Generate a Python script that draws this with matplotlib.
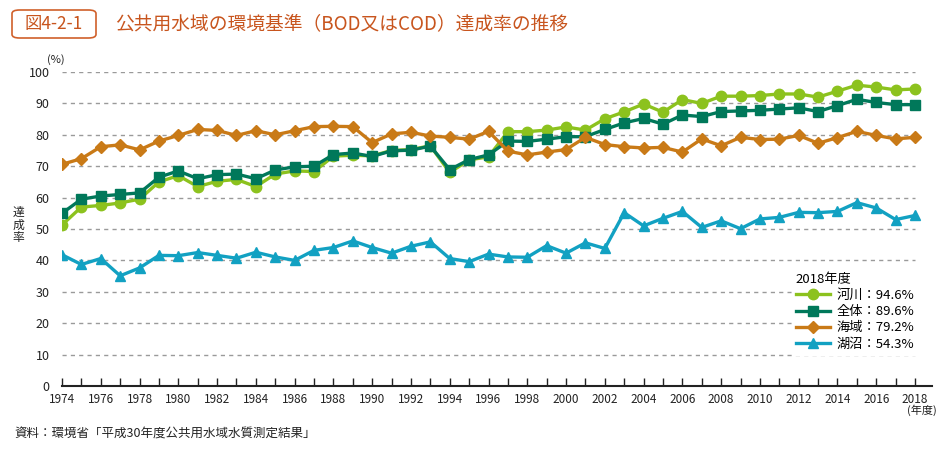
import matplotlib
matplotlib.use("Agg")
import matplotlib.pyplot as plt
from matplotlib.patches import FancyBboxPatch
import numpy as np

plt.rcParams['font.family'] = ['Noto Sans CJK JP', 'DejaVu Sans']

years = list(range(1974, 2019))
river = [51.3, 57.0, 57.5, 58.3, 59.5, 65.0, 67.0, 63.5, 65.2, 65.8, 63.5, 67.5, 68.5, 68.3,
         73.2, 73.5, 73.3, 75.0, 75.3, 76.5, 68.0, 72.0, 73.0, 81.0, 81.0, 81.5, 82.5, 81.5,
         85.1, 87.3, 89.8, 87.2, 91.2, 90.0, 92.3, 92.3, 92.5, 93.0, 93.0, 92.0, 93.9, 95.8,
         95.2, 94.3, 94.6]
overall = [55.0, 59.5, 60.5, 61.0, 61.5, 66.5, 68.5, 66.0, 67.3, 67.5, 66.0, 68.8, 69.8, 70.0,
           73.7, 74.2, 73.1, 74.9, 75.1, 76.4, 68.9, 72.1, 73.6, 78.0, 77.9, 78.6, 79.4, 79.4,
           81.7, 83.8, 85.2, 83.4, 86.3, 85.8, 87.4, 87.6, 87.8, 88.2, 88.6, 87.4, 89.3, 91.3,
           90.3, 89.6, 89.6]
sea = [70.6, 72.4, 76.2, 76.8, 75.2, 78.0, 79.8, 81.7, 81.4, 79.8, 81.3, 80.0, 81.3, 82.6,
       82.7, 82.6, 77.5, 80.3, 80.8, 79.6, 79.2, 78.6, 81.1, 74.8, 73.6, 74.5, 75.3, 79.2,
       76.9, 76.2, 75.8, 76.0, 74.5, 78.7, 76.5, 79.2, 78.5, 78.6, 79.8, 77.3, 79.1, 81.1,
       79.8, 78.7, 79.2]
lake = [41.8, 38.7, 40.6, 35.1, 37.6, 41.6, 41.5, 42.5, 41.6, 40.7, 42.6, 41.1, 40.0, 43.2,
        44.1, 46.2, 44.1, 42.3, 44.5, 45.9, 40.6, 39.6, 42.0, 41.1, 41.0, 44.7, 42.3, 45.6,
        43.8, 55.2, 51.0, 53.4, 55.6, 50.5, 52.6, 50.1, 53.2, 53.7, 55.3, 55.2, 55.6, 58.4,
        56.7, 53.0, 54.3]
series_labels = ['河川：94.6%', '全体：89.6%', '海域：79.2%', '湖沼：54.3%']
yticks = [0, 10, 20, 30, 40, 50, 60, 70, 80, 90, 100]
xtick_years = list(range(1974, 2019, 2))

W, H = 947, 449
fig = plt.figure(figsize=(W / 100, H / 100), dpi=100)
ax = fig.add_axes([62 / W, (H - 386) / H, (932 - 62) / W, (386 - 72) / H])

ax.set_xlim(1974, 1974 + (932 - 62) / ((915 - 62) / 44))
ax.set_ylim(0, 100)

# gridlines
ax.hlines(yticks[1:], 1974, 2018, colors='#9a9a9a', linestyles=(0, (3, 3)), linewidth=1, zorder=1)

c_river = '#8cc21e'
c_overall = '#00785a'
c_sea = '#c97a17'
c_lake = '#12a1c2'

ax.plot(years, river, color=c_river, lw=2.4, marker='o', ms=7.5, label=series_labels[0], zorder=3)
ax.plot(years, overall, color=c_overall, lw=2.4, marker='s', ms=7.5, label=series_labels[1], zorder=4)
ax.plot(years, sea, color=c_sea, lw=2.4, marker='D', ms=6.5, label=series_labels[2], zorder=5)
ax.plot(years, lake, color=c_lake, lw=2.4, marker='^', ms=7.5, label=series_labels[3], zorder=6)

for s in ['top', 'right', 'left']:
    ax.spines[s].set_visible(False)
ax.spines['bottom'].set_linewidth(1.5)
ax.spines['bottom'].set_color('#222222')

ax.set_xticks(years)
ax.set_xticklabels([str(y) if y in xtick_years else '' for y in years], fontsize=8.5)
ax.tick_params(axis='x', direction='in', length=6, width=1, pad=5, colors='#222222')
ax.set_yticks(yticks)
ax.set_yticklabels([str(v) for v in yticks], fontsize=9)
ax.tick_params(axis='y', length=0, pad=9, colors='#222222')

leg = ax.legend(loc='upper left', bbox_to_anchor=((785 - 62) / (932 - 62), (386 - 262) / (386 - 72)),
                title='2018年度', fontsize=9.5, title_fontsize=9.5, frameon=True, framealpha=1,
                edgecolor='white', handlelength=2.6, handletextpad=0.5, labelspacing=0.25,
                borderpad=0.3)
leg._legend_box.align = 'left'
leg.set_zorder(10)

# titles and annotations
box = FancyBboxPatch((12 / W, (H - 38) / H), 84 / W, 28 / H,
                     boxstyle='round,pad=0,rounding_size=0.008', transform=fig.transFigure,
                     fc='white', ec='#d0602a', lw=1.2)
fig.add_artist(box)
fig.text(54 / W, (H - 24) / H, '図4-2-1', color='#c8551e', fontsize=12.5, ha='center', va='center')
fig.text(115 / W, (H - 24) / H, '公共用水域の環境基準（BOD又はCOD）達成率の推移', color='#c8551e',
         fontsize=13.5, ha='left', va='center')
fig.text(56 / W, (H - 60) / H, '(%)', fontsize=8, ha='center', va='center', color='#222222')
fig.text(18 / W, (H - 225) / H, '達\n成\n率', fontsize=8.5, ha='center', va='center',
         linespacing=0.95, color='#222222')
fig.text(922 / W, (H - 410) / H, '(年度)', fontsize=8, ha='center', va='center', color='#222222')
fig.text(14 / W, (H - 434) / H, '資料：環境省「平成30年度公共用水域水質測定結果」', fontsize=9,
         ha='left', va='center', color='#222222')

fig.savefig('out.png', dpi=100)
